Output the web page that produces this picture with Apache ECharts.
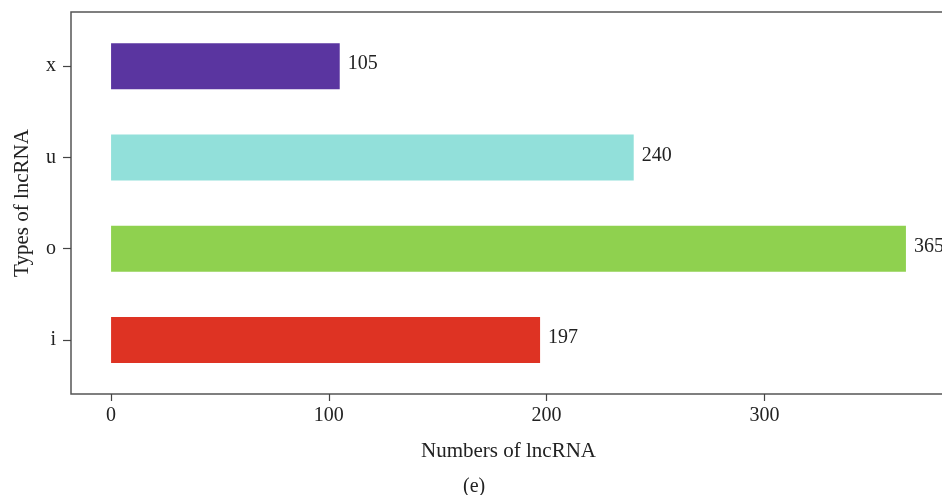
<!DOCTYPE html>
<html>
<head>
<meta charset="utf-8">
<script src="https://cdn.jsdelivr.net/npm/echarts@6/dist/echarts.min.js"></script>
<style>
  html, body { margin: 0; padding: 0; background: #fff; }
  #chart { width: 942px; height: 495px; }
</style>
</head>
<body>
<div id="chart"></div>
<script>
// lncRNA type counts (bottom to top on the axis)
const categories = ['i', 'o', 'u', 'x'];
const counts = [197, 365, 240, 105];
const barColors = ['#de3323', '#8fd14f', '#92e0da', '#5a35a0'];
const xTicks = [0, 100, 200, 300];

const FONT = 'Liberation Serif';
const TEXT = '#222';
const X_MIN = -18.4, X_MAX = 383.4;

const chart = echarts.init(document.getElementById('chart'));

chart.setOption({
  animation: false,
  backgroundColor: '#fff',
  grid: [
    // bar area (category bands)
    { left: 71, width: 875, top: 20.5, bottom: 109.5, show: false,
      outerBoundsMode: 'none', containLabel: false },
    // framed panel carrying the numeric axis
    { left: 71, width: 875, top: 12, bottom: 101, show: true,
      outerBoundsMode: 'none', containLabel: false,
      borderColor: '#555', borderWidth: 1.5, backgroundColor: 'transparent' }
  ],
  xAxis: [
    { gridIndex: 0, type: 'value', min: X_MIN, max: X_MAX, show: false },
    {
      gridIndex: 1, type: 'value', min: X_MIN, max: X_MAX,
      position: 'bottom',
      splitLine: { show: false },
      axisLine: { show: false, onZero: false },
      axisTick: { show: true, length: 7, customValues: xTicks,
                  lineStyle: { color: '#444', width: 1.2 } },
      axisLabel: { customValues: xTicks, margin: 12, fontFamily: FONT,
                   fontSize: 20, color: TEXT },
      name: 'Numbers of lncRNA',
      nameLocation: 'middle',
      nameGap: 47,
      nameTextStyle: { fontFamily: FONT, fontSize: 21, color: TEXT }
    }
  ],
  yAxis: [
    {
      gridIndex: 0, type: 'category', data: categories,
      position: 'left',
      axisLine: { show: false, onZero: false },
      axisTick: { show: true, alignWithLabel: true, length: 8,
                  lineStyle: { color: '#444', width: 1.2 } },
      axisLabel: { margin: 15, fontFamily: FONT, fontSize: 20, color: TEXT },
      splitLine: { show: false },
      name: 'Types of lncRNA',
      nameLocation: 'middle',
      nameGap: 38,
      nameTextStyle: { fontFamily: FONT, fontSize: 21, color: TEXT }
    },
    { gridIndex: 1, type: 'value', show: false }
  ],
  series: [{
    type: 'bar',
    xAxisIndex: 0,
    yAxisIndex: 0,
    barWidth: 46,
    data: counts.map((v, i) => ({ value: v, itemStyle: { color: barColors[i] } })),
    label: {
      show: true,
      position: 'right',
      distance: 8,
      offset: [0, -2],
      fontFamily: FONT,
      fontSize: 20,
      color: TEXT
    }
  }],
  graphic: [{
    type: 'text',
    left: 463,
    top: 477,
    style: { text: '(e)', font: '20px "Liberation Serif"', fill: TEXT }
  }]
});
</script>
</body>
</html>
